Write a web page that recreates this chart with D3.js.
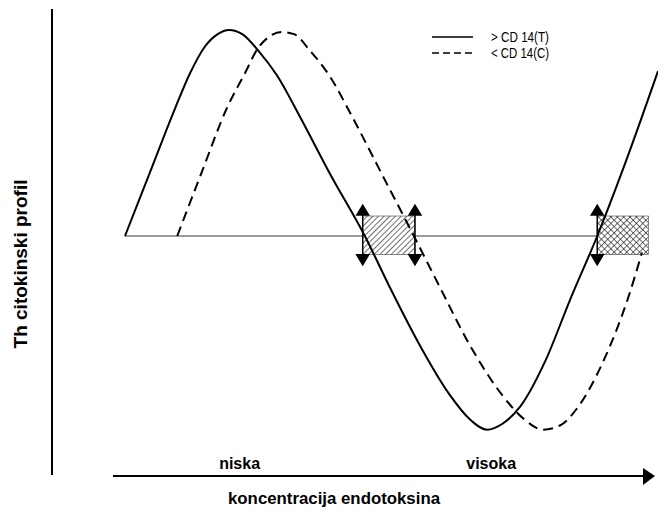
<!DOCTYPE html>
<html>
<head>
<meta charset="utf-8">
<script src="https://cdn.jsdelivr.net/npm/d3@7"></script>
<style>
  body { margin: 0; background: #fff; }
  text { font-family: "Liberation Sans", Arial, sans-serif; }
  .lbl { font-weight: bold; font-size: 16px; }
  .leg { font-size: 15px; }
</style>
</head>
<body>
<div id="chart"></div>
<script>
// koncentracija (0..100) i Th profil (-1..1), ocitano sa slike
const solidX = [0, 4.7, 9.4, 12.2, 15.0, 17.4, 19.5, 22.0, 25.0, 28.5, 32.8, 38.5, 45.0, 49.7, 55.3, 60.9, 64.7, 67.9, 70.9, 74.1, 78.8, 83.5, 88.6, 93.8, 100]
const solidY = [0, 0.31, 0.62, 0.79, 0.92, 0.98, 1.0, 0.98, 0.90, 0.78, 0.58, 0.30, 0, -0.25, -0.53, -0.77, -0.89, -0.94, -0.91, -0.83, -0.61, -0.31, 0, 0.35, 0.80]

const dashX = [9.8, 14.4, 19.1, 22.5, 24.9, 27.2, 29.3, 31.7, 34.7, 38.3, 42.6, 48.2, 54.2, 59.1, 64.7, 70.7, 74.9, 78.4, 81.6, 85.0, 89.7, 94.4, 97.0]
const dashY = [0, 0.31, 0.62, 0.79, 0.91, 0.97, 0.99, 0.98, 0.90, 0.78, 0.58, 0.30, 0, -0.25, -0.53, -0.77, -0.89, -0.94, -0.92, -0.83, -0.61, -0.30, -0.08]

const legendNames = ["> CD 14(T)", "< CD 14(C)"]
const zoneLabels = ["niska", "visoka"]
const zoneX = [21.5, 68.7]
// preklapanje (od - do) i da li ima strelice na desnoj strani
const zones = [{ x0: 44.6, x1: 54.4, fill: "url(#hatch)", right: true },
               { x0: 88.6, x1: 98.2, fill: "url(#cross)", right: false }]
const baseEnd = 88.6
const xTitle = "koncentracija endotoksina"
const yTitle = "Th citokinski profil"

const W = 658, H = 512
const svg = d3.select("#chart").append("svg")
  .attr("width", W).attr("height", H)
svg.append("rect").attr("width", W).attr("height", H).attr("fill", "#fff")

const x = d3.scaleLinear().domain([0, 100]).range([125, 658])
const y = d3.scaleLinear().domain([-1, 1]).range([442, 30])

// uzorci za srafuru
const defs = svg.append("defs")
const p1 = defs.append("pattern").attr("id", "hatch")
  .attr("patternUnits", "userSpaceOnUse").attr("width", 4).attr("height", 4)
  .attr("patternTransform", "rotate(45)")
p1.append("rect").attr("width", 4).attr("height", 4).attr("fill", "#fff")
p1.append("line").attr("x1", 0).attr("y1", 0).attr("x2", 0).attr("y2", 4)
  .attr("stroke", "#222").attr("stroke-width", 1.3)
const p2 = defs.append("pattern").attr("id", "cross")
  .attr("patternUnits", "userSpaceOnUse").attr("width", 4.5).attr("height", 4.5)
  .attr("patternTransform", "rotate(45)")
p2.append("rect").attr("width", 4.5).attr("height", 4.5).attr("fill", "#fff")
p2.append("line").attr("x1", 0).attr("y1", 0).attr("x2", 0).attr("y2", 4.5)
  .attr("stroke", "#111").attr("stroke-width", 1.2)
p2.append("line").attr("x1", 0).attr("y1", 0).attr("x2", 4.5).attr("y2", 0)
  .attr("stroke", "#111").attr("stroke-width", 1.2)

// osnovna linija
svg.append("line")
  .attr("x1", x(0)).attr("x2", x(baseEnd))
  .attr("y1", y(0)).attr("y2", y(0))
  .attr("stroke", "#7a7a7a").attr("stroke-width", 1.6)

// zone preklapanja
const zg = svg.append("g")
zg.selectAll("rect.zone").data(zones).enter().append("rect")
  .attr("class", "zone")
  .attr("x", d => x(d.x0))
  .attr("width", d => x(d.x1) - x(d.x0))
  .attr("y", y(0.097))
  .attr("height", y(-0.09) - y(0.097))
  .attr("fill", d => d.fill)
  .attr("stroke", "#444").attr("stroke-width", 0.6)

// krive
const line = d3.line().x(d => x(d[0])).y(d => y(d[1])).curve(d3.curveMonotoneX)
svg.append("path").datum(d3.zip(solidX, solidY))
  .attr("d", line).attr("fill", "none")
  .attr("stroke", "#000").attr("stroke-width", 2)
svg.append("path").datum(d3.zip(dashX, dashY))
  .attr("d", line).attr("fill", "none")
  .attr("stroke", "#000").attr("stroke-width", 2)
  .attr("stroke-dasharray", "10,6")

// dvostruke strelice
const arrowXs = []
zones.forEach(z => { arrowXs.push(z.x0); if (z.right) arrowXs.push(z.x1) })
svg.selectAll("path.darrow").data(arrowXs).enter().append("path")
  .attr("class", "darrow")
  .attr("d", d => {
    const cx = x(d), t = y(0.15), b = y(-0.14), hw = 6, hh = 10
    return "M" + (cx - hw) + "," + (t + hh) + "L" + cx + "," + t + "L" + (cx + hw) + "," + (t + hh) + "Z" +
      "M" + (cx - hw) + "," + (b - hh) + "L" + cx + "," + b + "L" + (cx + hw) + "," + (b - hh) + "Z" +
      "M" + cx + "," + (t + hh) + "L" + cx + "," + (b - hh)
  })
  .attr("fill", "#000").attr("stroke", "#000").attr("stroke-width", 1.5)

// ose
svg.append("line").attr("x1", 52).attr("x2", 52).attr("y1", 9).attr("y2", 475)
  .attr("stroke", "#000").attr("stroke-width", 2)
svg.append("line").attr("x1", 113).attr("x2", 643).attr("y1", 476).attr("y2", 476)
  .attr("stroke", "#000").attr("stroke-width", 2)
svg.append("path").attr("d", "M643,468L655,476L643,485Z").attr("fill", "#000")

// natpisi
svg.selectAll("text.zone").data(zoneLabels).enter().append("text")
  .attr("class", "lbl")
  .attr("x", (d, i) => x(zoneX[i])).attr("y", 469)
  .attr("text-anchor", "middle").text(d => d)
svg.append("text").attr("class", "lbl")
  .attr("x", 334).attr("y", 504).attr("text-anchor", "middle")
  .style("font-size", "17px")
  .attr("textLength", 212).attr("lengthAdjust", "spacingAndGlyphs")
  .text(xTitle)
svg.append("text").attr("class", "lbl")
  .attr("transform", "translate(27,264) rotate(-90)")
  .attr("text-anchor", "middle")
  .style("font-size", "19px")
  .text(yTitle)

// legenda
const leg = svg.append("g").attr("transform", "translate(432,37)")
leg.selectAll("line").data(legendNames).enter().append("line")
  .attr("x1", 0).attr("x2", 41)
  .attr("y1", (d, i) => i * 16).attr("y2", (d, i) => i * 16)
  .attr("stroke", "#000").attr("stroke-width", 1.6)
  .attr("stroke-dasharray", (d, i) => i ? "7,4" : null)
leg.selectAll("text").data(legendNames).enter().append("text")
  .attr("class", "leg")
  .attr("x", 59).attr("y", (d, i) => i * 16 + 5)
  .attr("textLength", 58).attr("lengthAdjust", "spacingAndGlyphs")
  .text(d => d)
</script>
</body>
</html>
